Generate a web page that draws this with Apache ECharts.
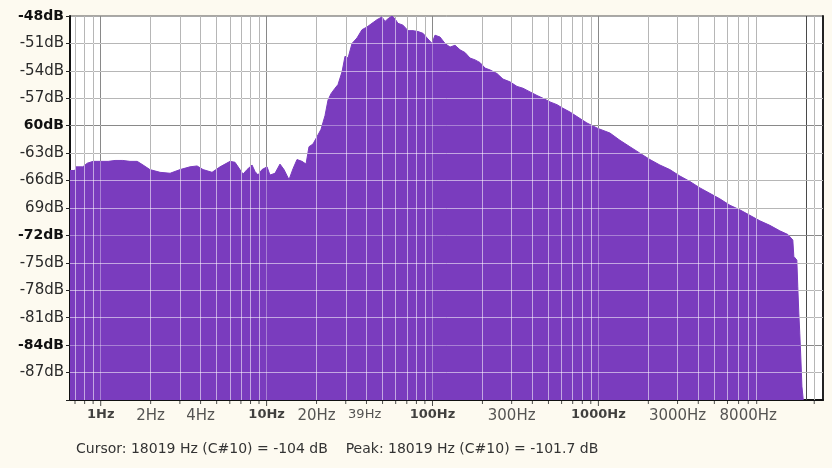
<!DOCTYPE html>
<html>
<head>
<meta charset="utf-8">
<script src="https://cdn.jsdelivr.net/npm/echarts@6/dist/echarts.min.js"></script>
<style>
  html, body { margin: 0; background: #fdfaf0; }
  #chart { width: 832px; height: 468px; }
</style>
</head>
<body>
<div id="chart"></div>
<script>
// spectrum: frequency (Hz) and level (dB)
const freqs = [
  0.653, 0.70, 0.71, 0.78, 0.83, 0.90, 1.11, 1.22, 1.36, 1.50, 1.66, 1.80, 1.98,
  2.28, 2.62, 3.01, 3.45, 3.81, 4.14, 4.69, 5.24, 6.02, 6.45, 6.91, 7.21, 7.62,
  8.17, 8.51, 8.88, 9.38, 10.06, 10.48, 11.24, 12.04, 12.73, 13.65, 14.43, 15.25,
  16.35, 17.28, 18.01, 19.04, 20.13, 21.28, 22.49, 23.45, 24.44, 25.85, 26.94,
  28.49, 29.70, 30.96, 32.73, 35.07, 37.58, 40.29, 43.18, 46.29, 49.62, 51.72,
  53.92, 57.0, 59.4, 61.9, 66.4, 71.2, 76.3, 81.8, 87.7, 92.7, 99.3, 103.5, 111,
  119, 127.6, 136.7, 146.6, 157.1, 168.4, 180.6, 193.6, 207.5, 222.4, 245, 266,
  293, 323, 351, 387, 427, 464, 511, 563, 612, 674, 743, 853, 994, 1174, 1349,
  1549, 1779, 2044, 2348, 2697, 3098, 3563, 4091, 4699, 5397, 6205, 7126, 8185,
  9400, 10810, 12410, 13870, 14860, 15070, 15710, 15920, 16150, 16370, 16600,
  16860, 17180
];
const levels = [
  -64.9, -64.9, -64.5, -64.5, -64.1, -63.9, -63.9, -63.8, -63.8, -63.9, -63.9, -64.3, -64.8,
  -65.1, -65.2, -64.8, -64.5, -64.4, -64.8, -65.1, -64.5, -63.9, -64.0, -64.8, -65.3, -64.8,
  -64.3, -65.0, -65.4, -64.8, -64.5, -65.4, -65.2, -64.2, -64.8, -65.9, -64.7, -63.7,
  -63.9, -64.2, -62.3, -62.0, -61.2, -60.4, -58.9, -57.2, -56.5, -55.9, -55.5,
  -54.1, -52.4, -52.6, -51.0, -50.4, -49.5, -49.2, -48.8, -48.4, -48.1, -48.6,
  -48.3, -48.0, -48.3, -48.8, -49.0, -49.6, -49.6, -49.7, -49.9, -50.4, -51.0, -50.1, -50.3,
  -51.0, -51.4, -51.2, -51.7, -52.0, -52.6, -52.8, -53.1, -53.7, -53.9, -54.3, -54.9,
  -55.2, -55.7, -55.9, -56.3, -56.7, -57.0, -57.4, -57.7, -58.1, -58.5, -59.0, -59.7, -60.3, -60.8, -61.6,
  -62.3, -63.0, -63.7, -64.3, -64.8, -65.5, -66.1, -66.8, -67.4, -68.0, -68.7, -69.2, -69.8,
  -70.4, -70.9, -71.5, -71.9, -72.5, -74.3, -74.7, -77.6, -80.5, -82.7, -85.3,
  -88.5, -90
];

// axis texts
const xLabelFreqs = [1, 2, 4, 10, 20, 39, 100, 300, 1000, 3000, 8000];
const xLabelTexts = ['1Hz', '2Hz', '4Hz', '10Hz', '20Hz', '39Hz', '100Hz', '300Hz', '1000Hz', '3000Hz', '8000Hz'];
const yTickLabels = ['', '-87dB', '-84dB', '-81dB', '-78dB', '-75dB', '-72dB', '69dB',
  '-66dB', '-63dB', '60dB', '-57dB', '-54dB', '-51dB', '-48dB']; // from -90 upwards

// grid
const minorFreqs = [0.7, 0.8, 0.9, 2, 3, 4, 5, 6, 7, 8, 9, 20, 30, 40, 50, 60, 70, 80, 90,
  200, 300, 400, 500, 600, 700, 800, 900, 2000, 3000, 4000, 5000, 6000, 7000, 8000, 9000, 20000];
const majorFreqs = [1, 10, 100, 1000];
const cursorFreq = 18019;
const minorLevels = [-87, -81, -78, -75, -69, -66, -63, -57, -54, -51];
const majorLevels = [-84, -72, -60];

const FONT = 'DejaVu Sans, Verdana, sans-serif';
const purple = '#7a3cbe';

// one markLine set; z decides whether it sits under or over the fill
function gridSeries(name, z, fs, ls, color) {
  const style = { type: 'solid', width: 1, color: color, opacity: 1 };
  return {
    name: name, type: 'line', data: [], z: z, color: color,
    markLine: {
      z: z,
      silent: true,
      symbol: ['none', 'none'],
      label: { show: false },
      emphasis: { disabled: true },
      animation: false,
      lineStyle: style,
      data: fs.map(f => ({ xAxis: f })).concat(ls.map(v => ({ yAxis: v })))
    }
  };
}

const chart = echarts.init(document.getElementById('chart'));
chart.setOption({
  animation: false,
  backgroundColor: '#fdfaf0',
  title: {
    text: 'Cursor: 18019 Hz (C#10) = -104 dB    Peak: 18019 Hz (C#10) = -101.7 dB',
    left: 71, top: 437,
    textStyle: { fontFamily: FONT, fontSize: 14, fontWeight: 'normal', color: '#333' }
  },
  grid: {
    left: 70, right: 9, top: 16, bottom: 68,
    show: true, backgroundColor: '#fff', borderColor: '#555', borderWidth: 1
  },
  xAxis: {
    type: 'log', logBase: 10, min: 0.653, max: 22590,
    axisLine: { lineStyle: { color: '#111', width: 2 } },
    axisTick: { show: false },
    axisLabel: { show: false },
    splitLine: { show: false }
  },
  yAxis: [{
    type: 'value', min: -90, max: -48, interval: 3,
    axisLine: { show: true, lineStyle: { color: '#111', width: 2 } },
    axisTick: { show: true, length: 4, lineStyle: { color: '#222' } },
    axisLabel: {
      margin: 6, fontFamily: FONT, fontSize: 15, color: '#2a2a2a',
      formatter: v => {
        const i = Math.round((v + 90) / 3);
        const t = yTickLabels[i] || '';
        return (i % 4 === 2) ? '{b|' + t + '}' : t;
      },
      rich: { b: { fontFamily: FONT, fontSize: 14, fontWeight: 'bold', color: '#111' } }
    },
    splitLine: { show: false }
  }, {
    type: 'value', min: -90, max: -48, position: 'right',
    axisLine: { show: true, lineStyle: { color: '#222', width: 2 } },
    axisTick: { show: false }, axisLabel: { show: false }, splitLine: { show: false }
  }],
  series: [
    gridSeries('gridBelow', 1, minorFreqs, minorLevels, '#5e5e5e'),
    gridSeries('gridBelowMajor', 1, majorFreqs.concat([cursorFreq]), majorLevels, '#4a4a4a'),
    {
      name: 'spectrum', type: 'line', z: 2,
      data: freqs.map((f, i) => [f, levels[i]]),
      showSymbol: false, symbol: 'none',
      lineStyle: { color: purple, width: 1 },
      areaStyle: { color: purple, opacity: 1, origin: 'start' }
    },
    gridSeries('gridAbove', 3, minorFreqs, minorLevels, 'rgba(255,255,255,0.55)'),
    gridSeries('gridAboveMajor', 3, majorFreqs, majorLevels, 'rgba(255,255,255,0.35)'),
    {
      name: 'ticks', type: 'scatter', z: 4, clip: false, silent: true,
      symbol: 'rect',
      itemStyle: { color: '#222' },
      data: minorFreqs.map(f => ({ value: [f, -90], symbolSize: [1, 3], symbolOffset: [0, 2.5] }))
        .concat(majorFreqs.map(f => ({ value: [f, -90], symbolSize: [1, 5], symbolOffset: [0, 3.5] })))
    },
    {
      name: 'xLabels', type: 'scatter', z: 4, clip: false, silent: true,
      symbolSize: 1, itemStyle: { color: 'rgba(0,0,0,0)' },
      label: {
        show: true, position: 'bottom', distance: 8,
        fontFamily: FONT, fontSize: 15, color: '#2a2a2a'
      },
      data: xLabelFreqs.map((f, i) => ({
        value: [f, -90],
        label: {
          formatter: xLabelTexts[i],
          fontWeight: majorFreqs.includes(f) ? 'bold' : 'normal',
          color: majorFreqs.includes(f) ? '#111' : '#2a2a2a',
          fontSize: f === 39 ? 13 : (majorFreqs.includes(f) ? 13 : 15)
        }
      }))
    }
  ]
});
</script>
</body>
</html>
